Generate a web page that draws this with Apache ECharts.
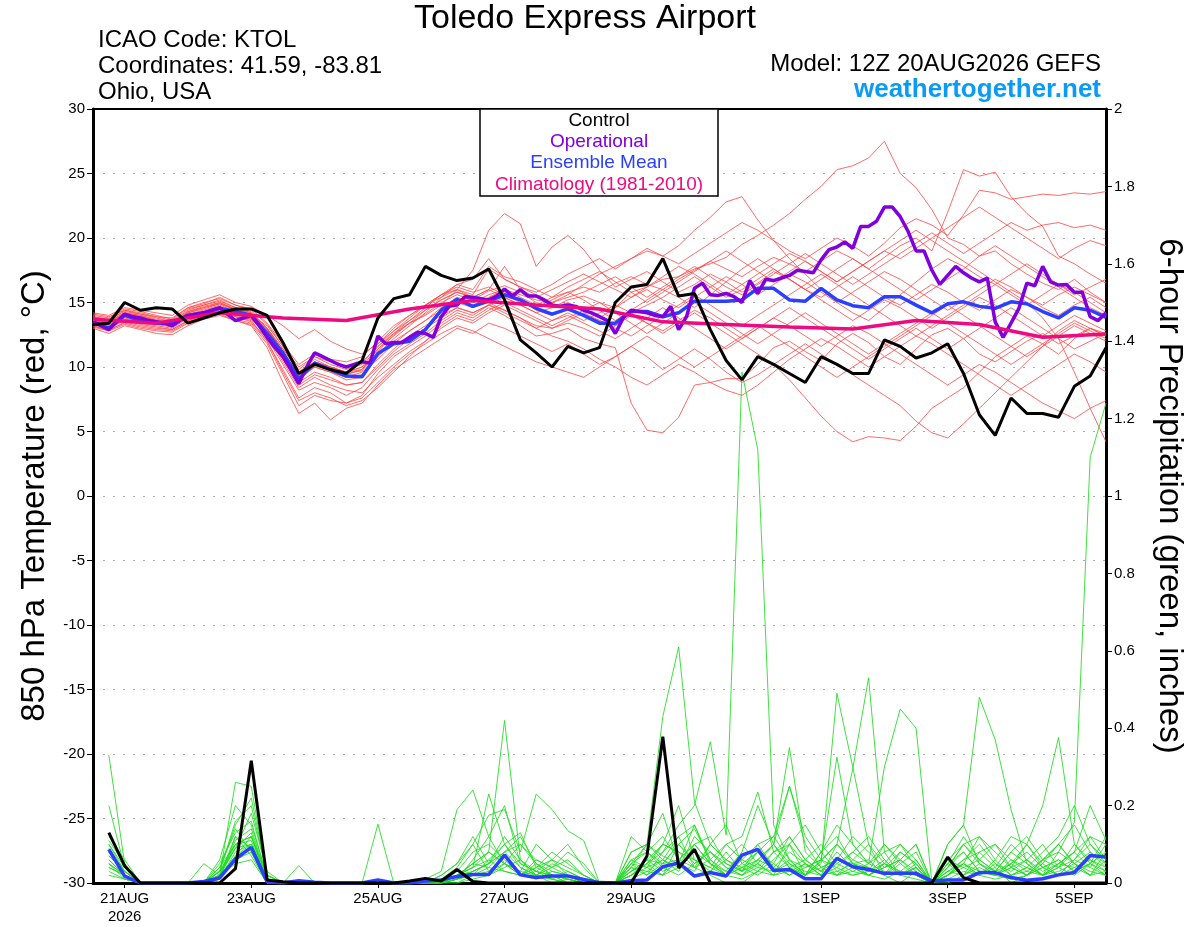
<!DOCTYPE html>
<html>
<head>
<meta charset="utf-8">
<script src="https://cdn.jsdelivr.net/npm/echarts@6/dist/echarts.min.js"></script>
<style>
  html, body { margin: 0; padding: 0; background: #fff; }
  #chart { width: 1200px; height: 927px; }
</style>
</head>
<body>
<div id="chart"></div>
<script>
// x axis is forecast hour from 12Z 20AUG2026
var tickHours = [12, 60, 108, 156, 204, 276, 324, 372];
var tickLabels = ["21AUG\n2026", "23AUG", "25AUG", "27AUG", "29AUG", "1SEP", "3SEP", "5SEP"];

// 850 hPa temperature, 6-hourly from hour 0
var control = [13.3,13.4,15.0,14.4,14.6,14.5,13.4,13.8,14.2,14.5,14.5,14.0,11.9,9.5,10.2,9.8,9.5,10.5,13.8,15.3,15.6,17.8,17.1,16.7,16.9,17.6,15.2,12.1,11.1,10.0,11.6,11.1,11.5,15.0,16.2,16.4,18.4,15.5,15.7,12.9,10.5,9.0,10.8,10.2,9.5,8.8,10.8,10.2,9.5,9.5,12.1,11.6,10.7,11.1,11.8,9.5,6.3,4.7,7.6,6.4,6.4,6.1,8.5,9.3,11.5];
var ensMean = [13.5,13.0,14.0,13.6,13.4,13.4,14.0,14.2,14.55,14.3,14.0,12.6,11.1,9.1,10.3,9.8,9.3,9.25,11.05,11.8,12.0,12.9,14.4,15.25,14.7,15.1,15.6,15.2,14.55,14.1,14.5,14.0,13.4,13.4,14.3,14.3,13.9,14.2,15.1,15.1,15.1,15.2,16.1,16.1,15.2,15.1,16.1,15.2,14.75,14.6,15.45,15.45,14.8,14.2,14.9,15.05,14.7,14.55,15.05,14.9,14.3,13.8,14.6,14.4,13.85];
// operational run, 3-hourly from hour 0
var operational = [13.5,13.2,12.9,13.5,14.1,13.9,13.8,13.6,13.5,13.4,13.2,13.6,14.0,14.1,14.2,14.4,14.6,14.1,13.6,13.8,14.0,13.2,12.3,11.5,10.8,9.8,8.7,10.0,11.1,10.8,10.5,10.2,10.0,10.2,10.4,10.3,12.4,11.8,11.9,11.9,12.3,12.7,12.6,12.3,13.9,14.7,14.8,15.45,15.4,15.3,15.2,15.5,16.05,15.5,16.0,15.5,15.5,15.2,14.8,14.7,14.8,14.7,14.4,14.2,13.9,13.6,12.6,13.8,14.4,14.3,14.2,14.0,13.9,14.7,12.9,13.9,16.1,16.5,15.6,15.55,15.7,15.45,15.0,16.7,15.7,16.8,16.7,16.9,17.1,17.5,17.4,17.3,18.3,19.1,19.3,19.7,19.2,20.9,20.9,21.3,22.4,22.4,21.65,20.5,19.0,19.0,17.5,16.4,17.1,17.8,17.3,16.9,16.6,16.9,13.5,12.3,13.4,14.55,16.5,16.3,17.8,16.6,16.35,16.4,15.8,15.8,13.9,13.6,14.2];
// climatology, daily at 12Z
var climatology = [13.7,13.4,14.2,13.8,13.6,14.5,15.15,14.8,14.5,13.5,13.3,13.1,12.95,13.6,13.3,12.3,12.55];

var memberTemps = [
  [13.8,13.5,14.2,14.0,13.6,13.2,14.3,14.6,15.0,14.4,14.0,12.8,10.9,9.0,10.4,9.9,9.5,9.7,11.2,12.5,13.4,14.1,15.0,15.6,15.2,15.9,16.3,15.8,15.0,14.6,15.2,15.5,15.0,14.6,15.8,16.2,16.8,17.0,17.6,18.0,18.5,19.5,20.2,21.0,21.9,23.0,24.0,25.3,25.6,26.2,27.5,25.0,23.9,22.2,20.0,19.5,18.6,19.0,18.0,17.2,16.5,16.0,16.8,15.8,15.0],
  [13.2,12.8,13.5,13.2,13.0,12.9,13.6,14.0,14.3,13.9,13.6,12.0,9.8,7.6,8.4,8.0,7.2,7.8,9.5,10.8,11.6,12.4,13.4,14.2,13.8,14.6,14.0,13.2,12.4,12.6,13.0,12.2,11.8,11.5,7.2,5.1,4.9,6.1,8.6,8.8,9.1,9.1,10.2,11.5,12.0,11.2,10.5,11.8,12.6,11.9,10.8,10.2,11.4,12.5,13.0,12.2,11.0,10.4,11.2,12.0,12.6,11.8,12.4,13.0,12.6],
  [14.0,13.8,14.5,14.3,14.0,13.7,14.6,15.0,15.3,14.8,14.5,13.4,11.8,10.2,11.0,10.6,10.4,10.8,12.0,13.2,14.0,14.8,15.6,16.4,16.0,17.8,17.0,16.6,16.0,15.4,15.8,16.2,15.8,16.5,17.0,16.4,16.0,16.8,17.5,18.2,17.6,17.0,17.8,18.5,18.0,17.4,18.2,19.0,18.4,17.6,18.5,19.4,20.0,19.0,22.0,25.3,24.8,25.1,23.2,21.9,20.9,18.6,18.0,17.2,16.5],
  [13.5,13.3,13.9,13.7,13.5,13.4,14.0,14.3,14.6,14.2,13.9,12.7,11.0,9.2,10.0,9.6,9.0,9.2,10.8,12.0,12.8,13.6,14.6,15.4,15.0,15.6,16.0,15.6,15.2,15.0,15.6,16.4,17.2,17.8,18.4,19.0,18.6,18.0,18.8,19.6,20.4,21.2,20.6,19.8,19.0,18.4,19.2,20.0,19.4,18.6,19.6,20.8,21.5,21.0,20.2,21.8,23.7,23.5,23.0,23.2,23.4,23.3,23.5,23.4,23.6],
  [13.9,13.6,14.4,14.1,13.8,13.5,14.4,14.8,15.2,14.6,14.2,13.0,11.4,9.8,10.8,10.4,10.0,10.4,11.6,12.6,13.4,14.0,14.8,16.0,17.5,20.6,21.9,21.1,17.8,19.3,20.2,19.1,17.5,16.2,16.8,17.4,16.6,15.8,16.4,17.2,16.6,15.8,16.5,17.4,16.8,16.0,15.4,16.2,17.0,16.2,15.4,14.8,15.6,16.4,15.8,15.0,14.4,15.2,16.0,15.4,14.6,14.0,14.8,15.4,14.6],
  [13.0,12.6,13.2,12.9,12.6,12.5,13.2,13.7,14.0,13.6,13.2,11.5,8.8,6.4,7.2,5.9,6.8,7.2,8.6,9.8,10.6,11.4,12.2,13.0,12.6,13.4,13.0,12.4,11.8,11.2,11.8,11.0,10.2,10.8,11.6,10.8,9.8,10.6,11.4,10.6,9.6,8.8,9.4,10.2,9.0,7.6,6.2,5.0,4.2,4.6,4.5,4.3,5.4,6.8,7.6,8.4,9.6,10.8,11.6,12.4,11.8,11.0,12.2,13.0,12.4],
  [14.2,14.0,14.6,14.4,14.2,14.0,14.8,15.2,15.6,15.0,14.7,14.0,13.2,12.2,12.9,12.0,11.4,11.0,11.8,12.8,13.6,14.4,15.2,15.8,15.4,16.0,15.4,14.8,14.2,14.6,15.0,14.4,13.8,14.6,15.4,16.0,15.2,14.6,15.4,16.2,17.0,16.4,15.6,16.4,17.2,16.6,15.8,15.0,15.8,16.6,17.4,16.8,16.0,15.2,14.4,15.2,16.0,16.8,16.2,15.4,14.8,15.6,16.2,15.6,15.0],
  [13.4,13.1,13.7,13.4,13.2,13.0,13.8,14.1,14.4,14.0,13.7,12.4,10.4,8.4,9.2,8.6,8.2,8.0,9.2,10.2,11.2,12.0,13.0,13.8,13.4,14.2,14.8,14.2,13.6,13.0,13.4,13.0,12.4,13.2,14.0,13.4,12.8,13.6,14.4,13.8,13.0,12.2,13.0,13.8,13.2,12.4,11.6,12.4,13.2,12.6,11.8,11.0,10.2,9.4,8.6,9.4,10.2,9.6,8.8,8.0,7.2,6.6,6.0,6.8,7.4],
  [13.7,13.4,14.0,13.8,13.4,13.3,14.1,14.4,14.8,14.3,14.0,13.2,11.6,9.6,10.6,10.0,9.6,10.0,11.0,12.2,13.2,14.2,15.4,16.4,16.8,18.4,16.8,16.2,15.8,16.4,17.2,17.8,18.4,17.6,18.4,19.2,18.6,19.4,20.6,21.6,22.8,23.2,21.4,19.8,18.4,17.2,16.0,15.0,14.2,13.6,14.6,15.6,16.6,17.6,18.4,17.8,17.0,16.4,15.6,14.8,15.6,16.4,15.8,15.0,14.2],
  [13.3,13.0,13.6,13.3,13.1,12.9,13.6,14.0,14.3,13.9,13.5,12.2,10.2,8.2,8.8,8.4,7.8,8.4,9.8,11.0,11.8,12.6,13.6,14.4,14.0,14.8,14.4,13.8,13.0,12.4,12.0,11.4,10.6,10.0,9.2,8.6,9.4,10.2,9.6,8.8,8.2,7.8,8.6,9.6,10.6,11.4,12.2,11.6,10.8,10.0,10.8,11.6,12.4,11.8,11.0,10.2,9.4,8.6,7.8,8.6,9.4,10.2,11.0,10.4,9.6],
  [13.6,13.3,14.0,13.7,13.5,13.3,14.0,14.2,14.6,14.3,13.9,12.6,11.0,9.0,10.0,9.6,9.2,9.4,11.0,11.8,12.2,13.0,14.2,15.0,14.6,15.2,15.8,15.2,14.4,14.0,14.6,14.0,13.6,13.2,14.2,14.8,15.4,16.2,17.0,16.2,15.4,16.0,16.8,17.6,16.8,16.0,16.8,17.6,18.4,17.6,16.8,16.0,15.2,16.0,16.8,17.6,18.6,19.4,18.6,17.8,17.0,16.2,15.4,14.6,14.0],
  [13.9,13.7,14.3,14.1,13.9,13.6,14.5,14.8,15.1,14.6,14.3,13.0,11.2,9.4,10.2,9.8,9.4,9.8,11.4,12.6,13.6,14.6,15.6,16.2,15.8,16.2,15.6,15.0,14.6,15.2,15.8,15.2,14.4,13.6,14.4,15.2,16.0,15.4,14.6,15.6,16.6,17.6,18.4,17.6,16.8,16.0,15.2,14.4,13.6,14.4,15.2,14.6,13.8,13.0,13.8,14.6,15.4,14.8,14.0,13.2,12.4,13.2,14.0,13.4,12.8],
  [13.5,13.2,13.8,13.5,13.3,13.1,13.9,14.3,14.7,14.1,13.8,12.4,10.6,8.8,9.6,9.2,8.6,8.8,10.2,11.4,12.4,13.2,14.0,14.6,14.2,14.8,14.2,13.6,13.0,13.6,14.2,13.6,14.2,14.8,14.2,13.4,12.6,13.4,14.2,13.4,12.6,11.8,11.0,10.2,11.0,11.8,11.0,10.2,9.4,8.6,7.8,7.0,5.8,4.9,4.5,5.6,6.8,8.0,9.2,10.4,11.6,12.8,13.6,13.0,12.4],
  [14.1,13.9,14.4,14.2,13.9,13.8,14.6,14.9,15.4,14.8,14.4,13.3,11.6,10.0,10.8,10.2,9.8,10.2,11.8,13.0,14.0,14.8,15.4,16.0,15.6,17.6,16.8,16.2,15.6,15.0,15.4,15.8,16.4,17.0,16.2,15.4,16.2,17.0,17.8,17.0,16.2,15.6,16.4,17.2,18.0,18.8,18.0,17.2,16.4,17.2,18.0,18.8,19.6,20.4,19.6,18.8,19.6,20.4,21.2,20.6,21.0,21.2,20.8,21.0,20.6],
  [13.2,12.9,13.4,13.1,12.9,12.8,13.5,13.9,14.2,13.7,13.4,12.0,9.6,7.4,8.0,7.6,7.0,7.4,8.4,9.6,10.8,12.0,13.2,14.0,13.6,14.4,15.0,14.4,13.8,13.2,13.8,14.4,15.0,14.2,13.4,12.6,13.4,14.2,15.0,14.2,13.4,12.6,11.8,12.6,13.4,14.2,13.4,12.6,11.8,11.0,11.8,12.6,13.4,14.2,13.4,12.6,11.8,11.0,10.2,11.0,11.8,12.6,13.4,12.8,12.2],
  [13.6,13.4,14.1,13.9,13.6,13.4,14.2,14.5,14.9,14.4,14.1,12.9,11.2,9.2,10.2,9.8,9.2,9.6,10.6,11.8,12.8,13.6,14.4,15.2,14.8,15.4,16.0,15.4,14.8,15.4,16.2,16.8,17.4,16.6,15.8,15.0,15.8,16.6,17.4,18.2,19.0,18.2,17.4,16.6,17.4,18.2,17.4,16.6,17.4,18.2,19.0,19.8,20.6,19.8,19.0,18.2,17.4,16.6,15.8,15.0,13.8,12.2,9.6,6.8,4.2],
  [13.8,13.6,14.2,14.0,13.7,13.5,14.3,14.7,15.0,14.5,14.2,13.0,11.4,9.6,10.4,10.0,9.6,10.0,11.6,12.8,13.8,14.8,15.6,16.0,15.4,15.0,14.4,13.8,13.2,13.0,13.6,14.2,13.6,13.0,12.4,13.2,14.0,14.8,15.6,14.8,14.0,13.2,14.0,14.8,15.6,16.4,17.2,16.4,15.6,14.8,14.0,13.2,12.4,13.2,14.0,14.8,15.6,16.4,17.2,18.0,17.2,16.4,15.6,16.2,16.8],
  [13.1,12.8,13.3,13.0,12.8,12.7,13.4,13.8,14.1,13.6,13.3,11.8,9.4,7.0,7.8,7.4,7.2,7.6,8.8,10.0,11.0,11.8,12.6,13.2,12.8,12.2,11.6,11.0,10.4,10.0,9.6,9.2,10.0,10.8,11.6,12.4,11.6,10.8,10.0,10.8,11.6,12.4,13.2,12.4,11.6,10.8,10.0,9.2,10.0,10.8,11.6,12.4,13.2,14.0,14.8,14.0,13.2,12.4,11.6,10.8,11.6,12.4,13.2,12.6,12.0],
  [13.7,13.5,14.1,13.9,13.6,13.5,14.2,14.6,14.9,14.5,14.1,12.9,11.2,9.4,10.4,10.0,9.6,9.8,11.4,12.4,13.4,14.4,15.2,15.8,15.4,16.0,17.8,16.0,15.4,16.0,16.6,17.2,16.6,16.0,15.4,16.2,17.0,17.8,17.2,16.4,15.6,16.4,17.2,18.0,18.8,18.2,17.4,16.6,17.4,18.2,19.0,18.4,19.2,20.0,20.8,21.6,22.4,21.6,20.8,20.0,19.2,18.4,19.2,19.8,19.4],
  [13.4,13.1,13.7,13.5,13.3,13.2,13.9,14.2,14.5,14.1,13.7,12.5,10.6,8.6,9.4,9.0,8.6,8.8,10.0,11.2,12.2,13.0,13.8,14.6,14.2,14.8,15.4,14.8,14.2,13.6,14.0,13.4,12.8,12.2,13.0,13.8,14.6,13.8,13.0,12.2,11.4,12.2,13.0,13.8,14.6,13.8,13.0,12.2,11.4,10.6,11.4,12.2,13.0,12.2,11.4,12.2,13.0,13.8,14.6,13.8,13.0,12.2,11.4,12.0,12.6]
];

// 6-hour precipitation (inches), first total ends at hour 6
var controlPrecip = [0.13,0.044,0,0,0,0,0,0,0.037,0.316,0.008,0.003,0,0,0,0,0,0,0,0.005,0.012,0.005,0.035,0.004,0,0,0,0,0,0,0,0,0,0,0.07,0.378,0.039,0.087,0,0,0,0,0,0,0,0,0,0,0,0,0,0,0,0.067,0.014,0,0,0,0,0,0,0,0,0];
var meanPrecip = [0.087,0.018,0,0,0,0,0.004,0.013,0.062,0.092,0.003,0,0.006,0.002,0,0,0,0.008,0,0,0.005,0.008,0.017,0.022,0.022,0.072,0.021,0.014,0.018,0.018,0.009,0.001,0,0.006,0.008,0.042,0.052,0.018,0.027,0.018,0.072,0.087,0.032,0.035,0.011,0.011,0.064,0.042,0.035,0.025,0.025,0.025,0.005,0.008,0.008,0.027,0.027,0.014,0.007,0.011,0.021,0.027,0.071,0.067];
var memberPrecips = [
  [0.33,0.05,0,0,0,0,0,0.02,0.26,0.25,0.01,0,0,0,0,0,0,0,0,0,0,0,0.02,0.05,0.08,0.42,0.06,0.02,0,0.01,0,0,0,0.02,0.05,0.08,0.12,0.04,0.02,0,0,0.03,0.08,0.1,0.02,0.05,0.49,0.3,0.1,0.02,0,0.03,0,0,0.02,0.08,0.04,0,0.02,0.06,0.1,0.05,0.02,0.08],
  [0.2,0.04,0,0,0,0,0,0.03,0.16,0.2,0.02,0,0,0,0,0,0,0,0,0,0,0.02,0.05,0.12,0.05,0.1,0.13,0.04,0.02,0,0,0,0,0.05,0.02,0.08,0.15,0.2,0.365,0.124,1.32,1.12,0.15,0.06,0.02,0.08,0.12,0.05,0.03,0.1,0.06,0.02,0,0.04,0.08,0.03,0.02,0.05,0.1,0.04,0.02,0.06,0.12,0.1],
  [0.12,0.06,0,0,0,0,0,0.05,0.13,0.16,0.01,0,0,0,0,0,0,0,0,0,0.01,0.03,0.19,0.24,0.12,0.05,0.02,0.06,0.04,0.02,0,0,0,0.08,0.1,0.43,0.61,0.21,0.1,0.06,0.04,0.02,0.05,0.12,0.06,0.03,0.08,0.04,0.02,0.05,0.1,0.06,0,0.05,0.12,0.06,0.03,0.08,0.05,0.02,0.04,0.1,0.06,0.03],
  [0.1,0.03,0,0,0,0,0,0.04,0.1,0.12,0.02,0,0,0,0,0,0,0,0,0,0,0,0.02,0.04,0.23,0.1,0.05,0.03,0.02,0.01,0,0,0,0.03,0.06,0.05,0.1,0.06,0.04,0.02,0.06,0.1,0.04,0.02,0.05,0.02,0.1,0.06,0.04,0.02,0.06,0.1,0,0.02,0.05,0.12,0.08,0.04,0.02,0.06,0.08,0.157,1.1,1.24],
  [0.08,0.02,0,0,0,0,0,0.02,0.09,0.1,0.01,0,0,0,0,0,0,0,0,0,0,0.01,0.04,0.1,0.175,0.19,0.08,0.23,0.19,0.135,0.11,0,0,0.08,0.1,0.06,0.04,0.12,0.08,0.05,0.03,0.08,0.12,0.06,0.04,0.06,0.1,0.295,0.53,0.08,0.02,0.04,0,0.05,0.08,0.03,0.02,0.06,0.04,0.02,0.05,0.08,0.04,0.02],
  [0.06,0.02,0,0,0,0,0,0.01,0.07,0.12,0,0,0,0,0,0,0,0,0,0,0,0,0.01,0.03,0.05,0.12,0.06,0.03,0.02,0,0,0,0,0.04,0.1,0.07,0.05,0.15,0.06,0.03,0.02,0.05,0.1,0.25,0.12,0.06,0.325,0.1,0.05,0.3,0.45,0.4,0,0.03,0.05,0.02,0.04,0.1,0.06,0.02,0.04,0.06,0.1,0.05],
  [0.05,0.01,0,0,0,0,0,0.02,0.11,0.14,0.01,0,0,0,0,0,0,0,0,0,0,0,0,0.02,0.04,0.08,0.1,0.05,0.02,0.01,0,0,0,0.02,0.06,0.1,0.08,0.04,0.06,0.02,0.05,0.08,0.03,0.06,0.02,0.056,0.1,0.05,0.02,0.04,0.08,0.05,0,0.1,0.15,0.48,0.37,0.19,0.05,0.02,0.08,0.05,0.03,0.02],
  [0.04,0.02,0,0,0,0,0,0.01,0.08,0.1,0.01,0,0,0,0,0,0,0.152,0,0,0,0,0.02,0.05,0.08,0.05,0.03,0.1,0.06,0.02,0,0,0,0.06,0.04,0.02,0.1,0.05,0.08,0.04,0.02,0.06,0.1,0.05,0.03,0.02,0.05,0.08,0.12,0.06,0.02,0.05,0,0.02,0.05,0.02,0.06,0.12,0.1,0.2,0.376,0.1,0.05,0.12],
  [0.1,0.04,0,0,0,0,0,0.04,0.14,0.08,0,0,0.045,0,0,0,0,0,0,0,0,0,0.03,0.08,0.1,0.06,0.02,0.04,0.08,0.05,0.02,0,0,0.05,0.08,0.12,0.06,0.1,0.05,0.03,0.08,0.2,0.1,0.35,0.08,0.04,0.02,0.06,0.1,0.05,0.03,0.02,0,0.04,0.1,0.06,0.1,0.04,0.02,0.05,0.1,0.15,0.08,0.05],
  [0.07,0.03,0,0,0,0,0.05,0.02,0.12,0.09,0.01,0,0,0,0,0,0,0,0,0,0,0,0.01,0.06,0.12,0.2,0.05,0.03,0.01,0,0,0,0,0.03,0.05,0.02,0.06,0.1,0.12,0.05,0.03,0.1,0.12,0.25,0.1,0.04,0.06,0.12,0.08,0.04,0.06,0.1,0,0.06,0.1,0.12,0.06,0.02,0.04,0.08,0.12,0.2,0.1,0.06],
  [0.06,0.02,0,0,0,0,0,0.03,0.1,0.11,0,0,0,0,0,0,0,0,0,0,0,0.01,0.03,0.02,0.06,0.1,0.04,0.02,0.05,0.03,0.01,0,0,0.12,0.08,0.05,0.1,0.14,0.06,0.1,0.12,0.235,0.08,0.04,0.02,0.06,0.04,0.02,0.03,0.06,0.02,0.04,0,0.02,0.06,0.1,0.05,0.02,0.03,0.06,0.04,0.08,0.2,0.11],
  [0.08,0.03,0,0,0,0,0,0.02,0.09,0.13,0.01,0,0,0,0,0,0,0,0,0,0,0.02,0.05,0.1,0.03,0.07,0.02,0.05,0.03,0.02,0,0,0,0.05,0.1,0.18,0.05,0.03,0.1,0.15,0.05,0.03,0.06,0.1,0.05,0.02,0.04,0.08,0.05,0.1,0.05,0.02,0,0.05,0.02,0.04,0.02,0.05,0.08,0.04,0.06,0.03,0.05,0.08],
  [0.03,0.01,0,0,0,0,0,0.01,0.06,0.08,0,0,0,0,0,0,0,0,0,0,0,0,0.01,0.02,0.02,0.05,0.1,0.06,0.04,0.08,0.05,0,0,0.02,0.05,0.1,0.2,0.06,0.03,0.08,0.03,0.05,0.02,0.1,0.15,0.08,0.03,0.05,0.06,0.02,0.08,0.05,0,0.1,0.15,0.05,0.02,0.04,0.1,0.05,0.02,0.04,0.06,0.04],
  [0.05,0.02,0,0,0,0,0,0.06,0.2,0.15,0.02,0,0,0,0,0,0,0,0,0,0,0,0.02,0.04,0.06,0.03,0.02,0.04,0.06,0.1,0.04,0,0,0.04,0.03,0.06,0.12,0.15,0.05,0.02,0.04,0.06,0.1,0.04,0.02,0.08,0.15,0.1,0.05,0.08,0.1,0.04,0,0.03,0.06,0.08,0.1,0.06,0.03,0.02,0.05,0.04,0.02,0.06],
  [0.09,0.03,0,0,0,0,0,0.02,0.07,0.1,0.01,0,0,0,0,0,0,0,0,0,0,0,0.01,0.03,0.05,0.08,0.12,0.05,0.02,0.01,0,0,0,0.06,0.08,0.04,0.02,0.05,0.08,0.04,0.02,0.04,0.08,0.12,0.06,0.1,0.05,0.03,0.02,0.05,0.03,0.06,0,0.04,0.1,0.05,0.03,0.08,0.12,0.06,0.1,0.05,0.08,0.04],
  [0.11,0.05,0,0,0,0,0,0.03,0.15,0.22,0.02,0,0,0,0,0,0,0,0,0,0,0,0.02,0.05,0.04,0.03,0.02,0.03,0.06,0.04,0.02,0,0,0.05,0.04,0.1,0.08,0.06,0.04,0.1,0.06,0.04,0.03,0.05,0.02,0.04,0.06,0.05,0.04,0.02,0.05,0.08,0,0.06,0.04,0.02,0.05,0.03,0.06,0.1,0.04,0.02,0.05,0.03],
  [0.02,0.01,0,0,0,0,0,0.02,0.05,0.06,0,0,0,0,0,0,0,0,0,0,0,0,0,0.01,0.02,0.04,0.06,0.02,0.01,0,0,0,0,0.01,0.03,0.02,0.04,0.08,0.05,0.02,0.01,0.03,0.02,0.04,0.06,0.03,0.02,0.04,0.02,0.01,0.03,0.02,0,0.01,0.03,0.02,0.01,0.02,0.04,0.02,0.03,0.05,0.02,0.03],
  [0.04,0.02,0,0,0,0,0,0.01,0.12,0.07,0,0,0,0,0,0,0,0,0,0,0,0,0.01,0.02,0.03,0.05,0.02,0.01,0.03,0.02,0,0,0,0.03,0.06,0.03,0.05,0.02,0.03,0.06,0.1,0.05,0.02,0.03,0.05,0.02,0.03,0.02,0.03,0.05,0.02,0.01,0,0.03,0.02,0.05,0.02,0.01,0.02,0.04,0.06,0.03,0.05,0.02],
  [0.07,0.04,0,0,0,0,0,0.03,0.09,0.18,0.03,0,0,0,0,0,0,0,0,0,0,0.01,0.02,0.04,0.08,0.05,0.03,0.02,0.04,0.06,0.02,0,0,0.02,0.04,0.06,0.03,0.1,0.05,0.02,0.04,0.08,0.05,0.02,0.04,0.06,0.02,0.03,0.05,0.03,0.02,0.04,0,0.02,0.04,0.06,0.03,0.05,0.02,0.04,0.02,0.06,0.04,0.1],
  [0.05,0.02,0,0,0,0,0,0.02,0.1,0.12,0.01,0,0,0,0,0,0,0,0,0,0,0,0.02,0.03,0.05,0.08,0.04,0.02,0.01,0.03,0.01,0,0,0.04,0.02,0.05,0.06,0.04,0.1,0.06,0.03,0.06,0.04,0.08,0.05,0.03,0.06,0.04,0.02,0.04,0.06,0.03,0,0.02,0.05,0.03,0.02,0.04,0.06,0.03,0.05,0.08,0.12,0.06]
];

var FONT = "'Liberation Sans', Arial, Helvetica, sans-serif";

function pairs(values, stepHours, firstStep) {
  return values.map(function (v, i) { return [(i + firstStep) * stepHours, v]; });
}

function lineSeries(data, color, width, yIndex, z) {
  return {
    type: "line",
    data: data,
    yAxisIndex: yIndex,
    symbol: "none",
    silent: true,
    z: z,
    lineStyle: { color: color, width: width }
  };
}

var series = [];
memberTemps.forEach(function (m) {
  series.push(lineSeries(pairs(m, 6, 0), "rgba(255,70,70,0.8)", 1, 0, 2));
});
memberPrecips.forEach(function (m) {
  series.push(lineSeries(pairs(m, 6, 1), "rgba(30,220,30,0.85)", 1, 1, 2));
});
series.push(lineSeries(pairs(meanPrecip, 6, 1), "#2a3fff", 3.5, 1, 4));
series.push(lineSeries(pairs(controlPrecip, 6, 1), "#000", 3, 1, 6));
series.push(lineSeries(pairs(ensMean, 6, 0), "#2a3fff", 3.5, 0, 4));
series.push(lineSeries(pairs(operational, 3, 0), "#8000dd", 3.5, 0, 5));
series.push(lineSeries(pairs(climatology, 24, 0), "#ee0a80", 3.5, 0, 5));
series.push(lineSeries(pairs(control, 6, 0), "#000", 3, 0, 6));

function txt(text, x, y, size, color, align, extra) {
  var el = {
    type: "text",
    x: x,
    y: y,
    z: 110,
    silent: true,
    style: {
      text: text,
      fill: color,
      font: (extra && extra.bold ? "bold " : "") + size + "px " + FONT,
      textAlign: align,
      align: align,
      textVerticalAlign: "middle",
      verticalAlign: "middle"
    }
  };
  if (extra && extra.rotation) el.rotation = extra.rotation;
  return el;
}

var chart = echarts.init(document.getElementById("chart"));

var option = {
  animation: false,
  backgroundColor: "#fff",
  grid: {
    left: 93, right: 94, top: 109, bottom: 44,
    show: true, borderColor: "#000", borderWidth: 2,
    backgroundColor: "transparent"
  },
  xAxis: [
    {
      type: "value",
      min: 0,
      max: 384,
      axisLine: { show: true, onZero: false, lineStyle: { color: "#000", width: 3 } },
      axisTick: { show: true, customValues: tickHours, length: 5, lineStyle: { color: "#000", width: 1 } },
      axisLabel: {
        customValues: tickHours,
        formatter: function (v) { return tickLabels[tickHours.indexOf(v)] || ""; },
        color: "#000", fontSize: 15, fontFamily: FONT, lineHeight: 18, margin: 7
      },
      splitLine: { show: false }
    },
    {
      // top frame line
      type: "value",
      min: 0,
      max: 384,
      position: "top",
      axisLine: { show: true, onZero: false, lineStyle: { color: "#000", width: 2 } },
      axisTick: { show: false },
      axisLabel: { show: false },
      splitLine: { show: false }
    }
  ],
  yAxis: [
    {
      type: "value",
      min: -30, max: 30, interval: 5,
      position: "left",
      axisLine: { show: true, onZero: false, lineStyle: { color: "#000", width: 3 } },
      axisTick: { show: true, length: 6, lineStyle: { color: "#000", width: 1 } },
      axisLabel: { color: "#000", fontSize: 15, fontFamily: FONT, margin: 8 },
      splitLine: { show: true, showMinLine: false, showMaxLine: false, lineStyle: { color: "#aaa", width: 1, type: [2, 8] } }
    },
    {
      type: "value",
      min: 0, max: 2, interval: 0.2,
      position: "right",
      axisLine: { show: true, onZero: false, lineStyle: { color: "#000", width: 3 } },
      axisTick: { show: true, length: 6, lineStyle: { color: "#000", width: 1 } },
      axisLabel: { color: "#000", fontSize: 15, fontFamily: FONT, margin: 8 },
      splitLine: { show: false }
    }
  ],
  graphic: [
    txt("Toledo Express Airport", 585, 19, 34, "#000", "center"),
    txt("ICAO Code: KTOL", 98, 40, 24, "#000", "left"),
    txt("Coordinates: 41.59, -83.81", 98, 66, 24, "#000", "left"),
    txt("Ohio, USA", 98, 92, 24, "#000", "left"),
    txt("Model: 12Z 20AUG2026 GEFS", 1101, 64, 24, "#000", "right"),
    txt("weathertogether.net", 1101, 90, 26, "#0a9cf5", "right", { bold: true }),
    txt("850 hPa Temperature (red, \u00B0C)", 35, 496, 33, "#000", "center", { rotation: Math.PI / 2 }),
    txt("6-hour Precipitation (green, inches)", 1169, 496, 33, "#000", "center", { rotation: -Math.PI / 2 }),
    {
      type: "rect",
      z: 105,
      silent: true,
      shape: { x: 480, y: 109, width: 238, height: 87 },
      style: { fill: "#fff", stroke: "#000", lineWidth: 1.5 }
    },
    txt("Control", 599, 121, 19, "#000", "center"),
    txt("Operational", 599, 142, 19, "#8000dd", "center"),
    txt("Ensemble Mean", 599, 163, 19, "#2a3fff", "center"),
    txt("Climatology (1981-2010)", 599, 185, 19, "#ee0a80", "center")
  ],
  series: series
};

chart.setOption(option);
</script>
</body>
</html>
